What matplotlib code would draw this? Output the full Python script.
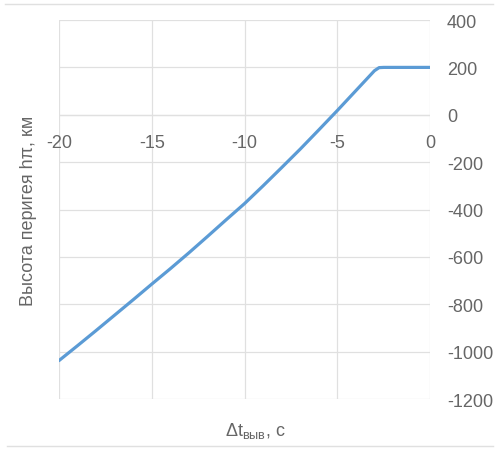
import matplotlib
matplotlib.use("Agg")
import matplotlib.pyplot as plt
from matplotlib.lines import Line2D

plt.rcParams['font.family'] = ['Liberation Sans', 'DejaVu Sans']
plt.rcParams['mathtext.fontset'] = 'custom'
plt.rcParams['mathtext.rm'] = 'Liberation Sans'
plt.rcParams['mathtext.it'] = 'Liberation Sans:italic'
plt.rcParams['axes.unicode_minus'] = False

# Perigee height vs. insertion time offset
dt = [-20, -19, -18, -17, -16, -15, -14, -13, -12, -11, -10,
      -9, -8, -7, -6, -5, -4, -3, -2.75, -2.5, -2, -1, 0]
h_perigee = [-1038, -975, -911, -846, -781, -715, -650, -583, -514, -444, -375,
             -300, -223, -145, -64, 18, 102, 186, 199, 200, 200, 200, 200]

x_ticks = [-20, -15, -10, -5, 0]
y_ticks = [-1200, -1000, -800, -600, -400, -200, 0, 200, 400]

text_color = '#666666'
grid_color = '#e0e0e0'
line_color = '#5B9BD5'

fig = plt.figure(figsize=(4.95, 4.52), dpi=100)
ax = fig.add_axes([0.119, 0.115, 0.75, 0.8385])

ax.plot(dt, h_perigee, color=line_color, lw=2.3, solid_capstyle='round',
        solid_joinstyle='round', zorder=3)

ax.set_xlim(-20, 0)
ax.set_ylim(-1200, 400)
ax.set_xticks(x_ticks)
ax.set_yticks(y_ticks)
ax.grid(True, color=grid_color, lw=0.9)
ax.set_axisbelow(True)

for s in ax.spines.values():
    s.set_visible(False)
ax.spines['bottom'].set_position(('data', 0))
ax.axhline(0, color=grid_color, lw=0.9, zorder=1)

ax.yaxis.tick_right()
ax.tick_params(axis='y', length=0, pad=12, labelsize=13, labelcolor=text_color)
ax.tick_params(axis='x', length=0, pad=14, labelsize=13, labelcolor=text_color)

ax.set_ylabel('Высота перигея hπ, км', fontsize=13, color=text_color, labelpad=16)
ax.set_xlabel(r'$\mathregular{\Delta t_{выв}}$, с', fontsize=13, color=text_color)
ax.xaxis.set_label_coords(0.53, -0.055)

# thin frame lines at top and bottom of the chart area
fig.add_artist(Line2D([0.01, 0.995], [1 - 5 / 452, 1 - 5 / 452],
                      transform=fig.transFigure, color=grid_color, lw=1))
fig.add_artist(Line2D([0.014, 0.995], [5 / 452, 5 / 452],
                      transform=fig.transFigure, color=grid_color, lw=1))

fig.savefig('out.png', dpi=100, facecolor='white')
